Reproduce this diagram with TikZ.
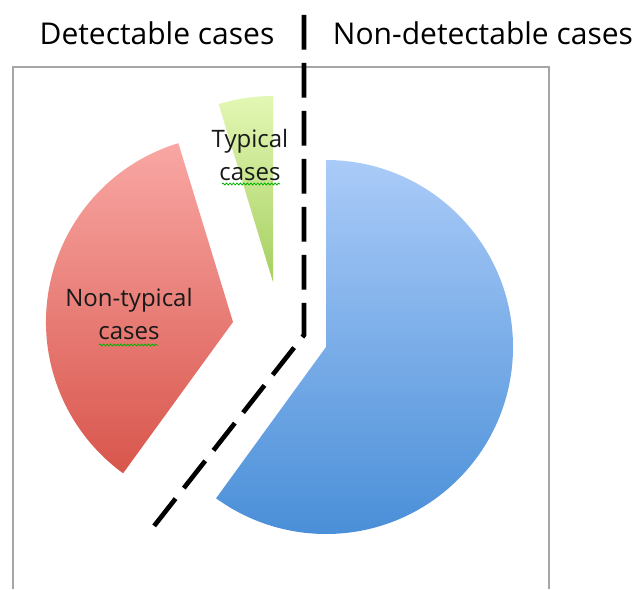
\documentclass[tikz,border=0pt]{standalone}
\usepackage{fontspec}
\setmainfont{Open Sans}
\usetikzlibrary{decorations.pathmorphing}
\definecolor{bluetop}{HTML}{AACBF8}
\definecolor{bluebot}{HTML}{4A8FD8}
\definecolor{redtop}{HTML}{F9A7A4}
\definecolor{redbot}{HTML}{D8564C}
\definecolor{greentop}{HTML}{E3F7B4}
\definecolor{greenbot}{HTML}{A6CF60}
\definecolor{frame}{HTML}{A6A6A6}

\begin{document}
\begin{tikzpicture}[x=0.75pt,y=0.75pt,
    title/.style={font=\fontsize{22.5}{26}\selectfont},
    label/.style={font=\fontsize{18}{25}\selectfont,align=center,text=black!90},
    divider/.style={line width=3.5pt,dash pattern=on 26pt off 10pt},
    spell/.style={green!70!black,line width=0.6pt,decorate,
      decoration={snake,amplitude=0.7pt,segment length=2.6pt}}]
      \useasboundingbox (0,0) rectangle (635,589);
      % Plot area
      \draw[frame,line width=0.9pt] (13,0) -- (13,522) -- (549,522) -- (549,0);
      % Slices
      \shade[top color=bluetop,bottom color=bluebot]
        (326,242) -- ++(90:187) arc[start angle=90,end angle=-126,radius=187] -- cycle;
      \shade[top color=redtop,bottom color=redbot]
        (233,267) -- ++(107:187) arc[start angle=107,end angle=234,radius=187] -- cycle;
      \shade[top color=greentop,bottom color=greenbot]
        (273,307) -- ++(90:186) arc[start angle=90,end angle=107,radius=186] -- cycle;
      % Labels
      \node[label] (typical) at (250,434) {Typical\\cases};
      \node[label] (nontypical) at (129,275) {Non-typical\\cases};
      \draw[spell] (222,405) -- (280,405);
      \draw[spell] (99,244) -- (158,244);
      % Titles
      \node[title] (detect) at (157,556) {Detectable cases};
      \node[title] (nondetect) at (483,556) {Non-detectable cases};
      % Dividing line
      \coordinate (divtop) at (304,574);
      \coordinate (divbend) at (304,254);
      \coordinate (divend) at (147,54);
      \draw[divider] (divtop) -- (divbend) -- (divend);
    \end{tikzpicture}
\end{document}
